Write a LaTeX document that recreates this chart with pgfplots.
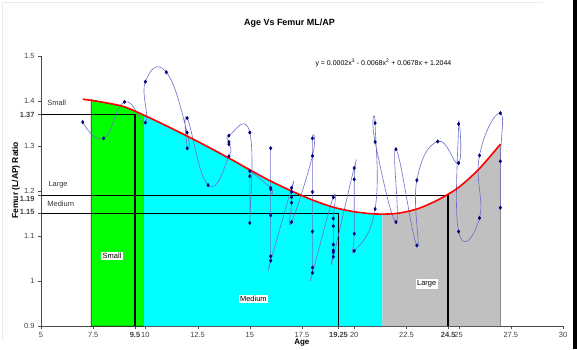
\documentclass[border=0pt]{standalone}
\usepackage{pgfplots}
\pgfplotsset{compat=1.18}
\usepackage{fontspec}
\setmainfont{Liberation Sans}
\definecolor{lineblue}{RGB}{110,110,200}
\definecolor{markblue}{RGB}{0,0,128}
\definecolor{areagray}{RGB}{192,192,192}
\definecolor{areagreen}{RGB}{0,255,0}
\definecolor{areacyan}{RGB}{0,255,255}
\begin{document}
\begin{tikzpicture}[x=1bp,y=1bp]
\useasboundingbox (0,0) rectangle (577,349);
\fill[black] (573,0) rectangle (577,349);
\draw[black!8, line width=1bp] (2,346) -- (543,346);
\draw[black!8, line width=1bp] (2,346) -- (2,9);
\begin{axis}[
  at={(41bp,23bp)}, anchor=south west,
  scale only axis, width=522bp, height=270bp,
  xmin=5, xmax=30, ymin=0.9, ymax=1.5,
  axis lines=left,
  axis line style={-, black!70},
  tick align=outside, major tick length=3bp,
  tick style={black!70},
  xtick={5,7.5,10,12.5,15,17.5,20,22.5,25,27.5,30},
  xticklabels={5,7.5,10,12.5,15,17.5,20,22.5,25,27.5,30},
  extra x ticks={9.5,19.25,24.5},
  extra x tick labels={\textbf{9.5},\textbf{19.25},\textbf{24.5}},
  ytick={0.9,1,1.1,1.2,1.3,1.4,1.5},
  yticklabels={0.9,1,1.1,1.2,1.3,1.4,1.5},
  extra y ticks={1.37,1.19,1.15},
  extra y tick labels={\textbf{1.37},\raisebox{-3bp}[\height][\depth]{\textbf{1.19}},\raisebox{1.5bp}[\height][\depth]{\textbf{1.15}}},
  ticklabel style={font=\fontsize{7.5}{8}\selectfont, text=black!75},
  clip=false,
]
% shaded areas under the trend curve
\addplot[fill=areagreen, draw=black, line width=0.5bp] coordinates {
  (7.4,0.9)(7.4,1.403)(8,1.397)(9,1.387)(9.9,1.369)(9.9,0.9)} \closedcycle;
\addplot[fill=areacyan, draw=none] coordinates {
  (9.9,0.9)(9.9,1.369)(10,1.367)(11,1.345)(12,1.322)(13,1.298)(14,1.273)(15,1.247)
  (16,1.222)(17,1.200)(18,1.180)(19,1.164)(20,1.154)(21,1.149)(21.35,1.148)(21.35,0.9)} \closedcycle;
\addplot[fill=areagray, draw=none] coordinates {
  (21.35,0.9)(21.35,1.148)(22,1.150)(23,1.160)(24,1.180)(25,1.208)(26,1.250)(27,1.304)(27,0.9)} \closedcycle;
\addplot[black!45, line width=0.6bp] coordinates {(27,0.9)(27,1.304)};
% reference lines
\addplot[black, line width=1.4bp] coordinates {(5,1.37)(9.5,1.37)(9.5,0.9)};
\addplot[black, line width=1.4bp] coordinates {(5,1.19)(24.5,1.19)(24.5,0.9)};
\addplot[black, line width=1.4bp] coordinates {(5,1.15)(19.25,1.15)(19.25,0.9)};
% data
\addplot[lineblue, line width=0.6bp, smooth, tension=0.85, mark=diamond*, mark size=1.6bp,
  mark options={markblue, fill=markblue}] coordinates {
  (7,1.353)(8,1.317)(9,1.398)(10,1.352)(10,1.443)(11,1.464)
  (12,1.330)(12,1.295)(12,1.362)(13,1.213)
  (14,1.277)(14,1.304)(14,1.309)(14,1.323)
  (15,1.330)(15,1.129)(15,1.233)(15,1.244)
  (16,1.207)(16,1.204)(16,1.295)(16,1.146)(16,1.055)(16,1.045)
  (17,1.207)(17,1.198)(17,1.186)(17,1.174)(17,1.131)
  (18,1.278)(18,1.317)(18,1.198)(18,1.110)(18,1.030)(18,1.018)
  (19,1.186)(19,1.139)(19,1.122)(19,1.081)(19,1.068)(19,1.064)(19,1.054)
  (20,1.251)(20,1.226)(20,1.105)(20,1.067)
  (21,1.160)(21,1.351)(21,1.309)
  (22,1.131)(22,1.293)
  (23,1.079)(23,1.224)
  (24,1.310)
  (25,1.262)(25,1.349)(25,1.110)
  (26,1.140)(26,1.279)
  (27,1.373)(27,1.266)(27,1.163)};
% trend curve
\addplot[red, line width=1.6bp, smooth] coordinates {
  (7,1.404)(8,1.397)(9,1.387)(10,1.367)(11,1.345)(12,1.322)(13,1.298)(14,1.273)
  (15,1.247)(16,1.222)(17,1.200)(18,1.180)(19,1.164)(20,1.154)(21,1.149)(22,1.150)
  (23,1.160)(24,1.180)(25,1.208)(26,1.250)(27,1.304)};
% labels
\node[font=\fontsize{7.5}{8}\selectfont, fill=white, inner sep=1.5bp] at (axis cs:8.4,1.056) {Small};
\node[font=\fontsize{7.5}{8}\selectfont, fill=white, inner sep=1.5bp] at (axis cs:15.17,0.96) {Medium};
\node[font=\fontsize{7.5}{8}\selectfont, fill=white, inner sep=1.5bp] at (axis cs:23.47,0.993) {Large};
\node[font=\fontsize{7.5}{8}\selectfont, anchor=west, inner sep=0pt, text=black!80] at (axis cs:5.3,1.395) {Small};
\node[font=\fontsize{7.5}{8}\selectfont, anchor=west, inner sep=0pt, text=black!80] at (axis cs:5.35,1.213) {Large};
\node[font=\fontsize{7.5}{8}\selectfont, anchor=west, inner sep=0pt, text=black!80] at (axis cs:5.3,1.172) {Medium};
\node[font=\fontsize{7}{8}\selectfont] at (axis cs:21.4,1.484) {y = 0.0002x\textsuperscript{3} - 0.0068x\textsuperscript{2} + 0.0678x + 1.2044};
\node[font=\fontsize{9}{10}\bfseries] at (axis cs:16.9,1.572) {Age Vs Femur ML/AP};
\node[font=\fontsize{8}{9}\bfseries] at (axis cs:17.49,0.8636) {Age};
\node[font=\fontsize{8.5}{9}\bfseries, rotate=90] at (axis cs:3.80,1.224) {Femur (L/AP) Ratio};
\end{axis}
\end{tikzpicture}
\end{document}
